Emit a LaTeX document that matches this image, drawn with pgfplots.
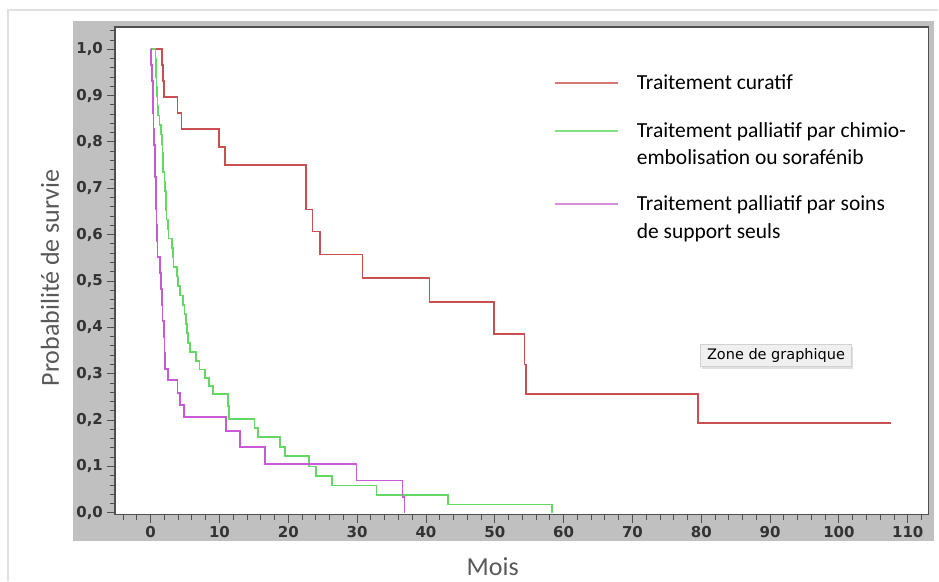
\documentclass[border=0pt]{standalone}
\usepackage{pgfplots}
\pgfplotsset{compat=1.18}
\usepackage{pgfplotstable}
\usepackage{fontspec}
\setmainfont{Carlito}
\newfontfamily\dejavu{DejaVu Sans}
\usetikzlibrary{shadows}
\definecolor{bandgray}{RGB}{192,192,192}
\definecolor{curred}{RGB}{200,80,80}
\definecolor{curgreen}{RGB}{100,215,100}
\definecolor{curmag}{RGB}{200,90,215}
\definecolor{legred}{RGB}{215,120,120}
\definecolor{leggreen}{RGB}{130,225,130}
\definecolor{legmag}{RGB}{215,140,220}
\definecolor{labgray}{RGB}{89,89,89}
\definecolor{framegray}{RGB}{80,80,80}

\pgfplotstableread{
t S
0 1.000
1.6 0.966
1.8 0.931
1.9 0.897
3.9 0.862
4.5 0.828
9.9 0.789
10.8 0.750
22.6 0.654
23.5 0.607
24.6 0.557
30.8 0.506
40.5 0.455
49.9 0.385
54.3 0.320
54.5 0.257
79.5 0.194
107.6 0.194
}\curatif

\pgfplotstableread{
t S
0 1.000
0.7 0.980
0.75 0.959
0.8 0.939
0.85 0.918
0.9 0.898
1.0 0.878
1.1 0.857
1.3 0.837
1.5 0.816
1.6 0.796
1.7 0.776
1.75 0.755
1.8 0.735
2.0 0.714
2.1 0.694
2.2 0.673
2.25 0.653
2.3 0.633
2.5 0.612
2.6 0.592
3.1 0.571
3.2 0.551
3.3 0.531
3.8 0.510
4.0 0.490
4.3 0.469
4.7 0.449
4.9 0.429
5.1 0.408
5.3 0.388
5.45 0.367
5.7 0.347
6.6 0.327
7.1 0.309
7.9 0.291
8.5 0.273
9.1 0.257
11.2 0.230
11.4 0.203
15.1 0.183
15.6 0.164
18.8 0.142
19.5 0.122
23.0 0.100
24.0 0.080
26.3 0.059
32.8 0.039
43.2 0.018
58.3 0.000
}\chimio

\pgfplotstableread{
t S
0 1.000
0.1 0.966
0.2 0.931
0.3 0.897
0.35 0.862
0.4 0.828
0.5 0.793
0.6 0.759
0.65 0.724
0.75 0.690
0.8 0.655
0.85 0.621
0.9 0.586
1.0 0.552
1.4 0.517
1.5 0.483
1.6 0.448
1.7 0.414
1.9 0.379
2.0 0.345
2.1 0.310
2.55 0.286
3.9 0.259
4.25 0.232
4.8 0.207
10.9 0.177
13.0 0.142
16.6 0.106
29.9 0.070
36.6 0.034
36.9 0.000
}\soins

\begin{document}
\begin{tikzpicture}[x=1pt,y=1pt]
\fill[white] (0,0) rectangle (939,581);
\draw[black!12, line width=1.2pt] (8,0) -- (8,571) -- (939,571);
\fill[bandgray] (73,40) rectangle (935,560);
\begin{axis}[
  at={(115pt,66pt)}, anchor=south west, scale only axis,
  width=814pt, height=488pt,
  xmin=-5.19, xmax=113.0, ymin=-0.004, ymax=1.048,
  axis background/.style={fill=white},
  axis line style={framegray, line width=1.3pt},
  tick align=outside, tick pos=left,
  xtick={0,10,20,30,40,50,60,70,80,90,100,110},
  xticklabels={0,10,20,30,40,50,60,70,80,90,100,110},
  ytick={0,0.1,0.2,0.3,0.4,0.5,0.6,0.7,0.8,0.9,1.0},
  yticklabels={{0,0},{0,1},{0,2},{0,3},{0,4},{0,5},{0,6},{0,7},{0,8},{0,9},{1,0}},
  minor xtick={-4,-2,...,112},
  minor ytick={0.02,0.04,...,1.045},
  major tick length=8pt, minor tick length=5pt,
  every tick/.style={framegray, line width=0.9pt},
  tick label style={font=\dejavu\bfseries\fontsize{15}{16}\selectfont, text=black!80},
  yticklabel style={xshift=-0.5pt},
  xticklabel style={yshift=0pt},
]
\addplot[const plot, curred, line width=1.7pt] table[x=t,y=S] {\curatif};
\addplot[const plot, curgreen, line width=1.7pt] table[x=t,y=S] {\chimio};
\addplot[const plot, curmag, line width=1.7pt] table[x=t,y=S] {\soins};
\end{axis}
% axis titles
\node[anchor=base, text=labgray, font=\fontsize{26}{30}\selectfont] at (493,5) {Mois};
\node[anchor=base, rotate=90, text=labgray, font=\fontsize{26}{30}\selectfont] at (59,303) {Probabilité de survie};
% legend
\draw[legred, line width=1.5pt] (555,498) -- (618,498);
\draw[leggreen, line width=1.5pt] (555,450) -- (618,450);
\draw[legmag, line width=1.5pt] (555,377) -- (618,377);
\begin{scope}[every node/.style={anchor=base west, inner sep=0pt, font=\fontsize{21.5}{26}\selectfont}]
\node at (637,491.7) {Traitement curatif};
\node at (637,443.7) {Traitement palliatif par chimio-};
\node at (637,416) {embolisation ou sorafénib};
\node at (637,370.3) {Traitement palliatif par soins};
\node at (637,342.7) {de support seuls};
\end{scope}
% tooltip
\node[fill={rgb,255:red,240;green,240;blue,240}, draw={rgb,255:red,210;green,210;blue,210}, line width=0.6pt,
  drop shadow={opacity=0.25, shadow xshift=1.5pt, shadow yshift=-2pt},
  minimum width=151pt, minimum height=22pt, inner sep=0pt,
  font=\dejavu\fontsize{14.5}{16}\selectfont] at (776.5,225) {Zone de graphique};
\end{tikzpicture}
\end{document}
